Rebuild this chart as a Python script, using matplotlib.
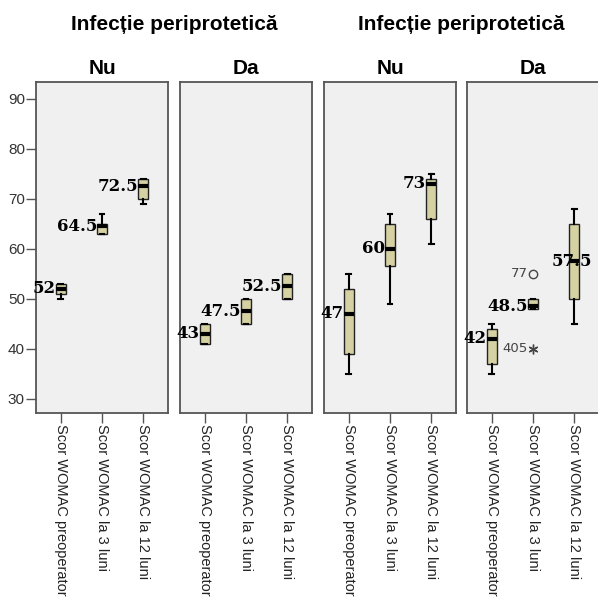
import matplotlib
matplotlib.use("Agg")
import matplotlib.pyplot as plt

# WOMAC scores by time point, split by periprosthetic infection (Nu / Da)
categories = ["Scor WOMAC preoperator", "Scor WOMAC la 3 luni", "Scor WOMAC la 12 luni"]
group_title = "Infecție periprotetică"
panel_titles = ["Nu", "Da", "Nu", "Da"]

# per panel: (whislo, q1, median, q3, whishi) for each category
panel_stats = [
    [(50, 51, 52, 53, 53), (63, 63, 64.5, 65, 67), (69, 70, 72.5, 74, 74)],
    [(41, 41, 43, 45, 45), (45, 45, 47.5, 50, 50), (50, 50, 52.5, 55, 55)],
    [(35, 39, 47, 52, 55), (49, 56.5, 60, 65, 67), (61, 66, 73, 74, 75)],
    [(35, 37, 42, 44, 45), (48, 48, 48.5, 50, 50), (45, 50, 57.5, 65, 68)],
]

# outliers in the last panel: (category index, value, case id, kind)
outliers = [(1, 55, "77", "o"), (1, 40, "405", "*")]

yticks = [30, 40, 50, 60, 70, 80, 90]

W, H = 598, 602
fig = plt.figure(figsize=(W / 100, H / 100), dpi=100, facecolor="white")

panel_left = [36, 180, 324, 467]
panel_w = 132
top_px, bot_px = 82, 413

box_color = "#D5D1A2"
edge = "#222222"
med_font = dict(fontsize=12, fontweight="bold", family="DejaVu Serif")

for p, stats in enumerate(panel_stats):
    ax = fig.add_axes([panel_left[p] / W, 1 - bot_px / H, panel_w / W, (bot_px - top_px) / H])
    ax.set_facecolor("#F0F0F0")
    for s in ax.spines.values():
        s.set_color("#555555")
        s.set_linewidth(1.3)

    bstats = []
    for lo, q1, med, q3, hi in stats:
        bstats.append(dict(whislo=lo, q1=q1, med=med, q3=q3, whishi=hi, fliers=[]))
    ax.bxp(bstats, positions=range(len(categories)), widths=0.24, patch_artist=True,
           showfliers=False, capwidths=0.12,
           boxprops=dict(facecolor=box_color, edgecolor=edge, linewidth=1.0),
           medianprops=dict(color="black", linewidth=3, solid_capstyle="butt"),
           whiskerprops=dict(color="black", linewidth=1.5),
           capprops=dict(color="black", linewidth=1.5))

    # median value labels
    for i, (lo, q1, med, q3, hi) in enumerate(stats):
        lab = f"{med:g}"
        if p == 3 and i == 2:
            ax.text(i - 0.05, med, lab, ha="center", va="center", **med_font)
        else:
            ax.text(i - 0.12, med, lab, ha="right", va="center", **med_font)

    if p == 3:
        for ci, val, cid, kind in outliers:
            if kind == "o":
                ax.plot(ci, val, marker="o", ms=6, mfc="none", mec="#444444", mew=1)
            else:
                ax.plot(ci, val, marker=(6, 2, 0), ms=7, color="#444444", mew=1)
            ax.text(ci - 0.12, val, cid, ha="right", va="center", fontsize=9.5,
                    color="#444444", family="DejaVu Sans")

    ax.set_xlim(-0.6, 2.6)
    ax.set_ylim(27.2, 93.3)
    ax.set_xticks(range(len(categories)))
    ax.set_xticklabels(categories, rotation=-90, ha="center", va="top",
                       fontsize=10.5, family="Liberation Sans", color="#222222")
    ax.tick_params(axis="x", length=7, width=1, color="#555555", pad=1)
    if p == 0:
        ax.set_yticks(yticks)
        ax.set_yticklabels([str(t) for t in yticks], family="Liberation Sans")
        ax.tick_params(axis="y", length=7, width=1, color="#555555", labelsize=11,
                       labelcolor="#333333", pad=1)
    else:
        ax.set_yticks([])

    ax.set_title(panel_titles[p], fontsize=15, fontweight="bold",
                 family="Liberation Sans", pad=6)

# group titles over each pair of panels
for k in range(2):
    x0 = panel_left[2 * k]
    x1 = panel_left[2 * k + 1] + panel_w
    fig.text((x0 + x1) / 2 / W, 1 - 24 / H, group_title, ha="center", va="center",
             fontsize=15, fontweight="bold", family="Liberation Sans")

fig.savefig("out.png", dpi=100)
